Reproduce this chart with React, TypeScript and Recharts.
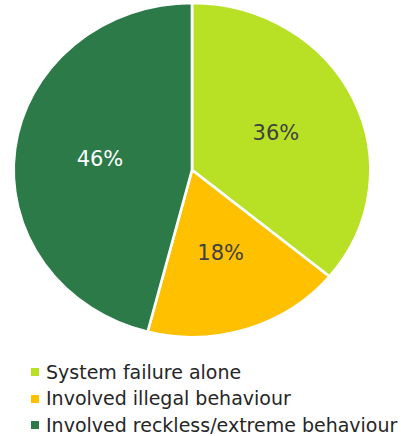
import React from 'react';
import { PieChart, Pie, Cell, Legend } from 'recharts';

const categories = ['System failure alone', 'Involved illegal behaviour', 'Involved reckless/extreme behaviour'];
const values = [36, 18, 46];
const colors = ['#B8E125', '#FFC000', '#2B7A48'];
const labelColors = ['#404040', '#404040', '#FFFFFF'];

const data = categories.map((name, i) => ({ name, value: values[i] }));

const SX = 1.068;
const RAD = Math.PI / 180;
const FONT = '"DejaVu Sans", "Open Sans", Arial, sans-serif';

const renderLabel = (p: any) => {
  const { cx, cy, midAngle, outerRadius, index, value } = p;
  const r = outerRadius * 0.52;
  const x = cx + r * Math.cos(-midAngle * RAD) * SX;
  const y = cy + r * Math.sin(-midAngle * RAD);
  return (
    <text
      x={x}
      y={y}
      fill={labelColors[index]}
      textAnchor="middle"
      dominantBaseline="central"
      fontSize={21}
      fontFamily={FONT}
    >
      {value}%
    </text>
  );
};

const renderLegend = (props: any) => {
  const { payload } = props;
  return (
    <div style={{ fontFamily: FONT, fontSize: 19, color: '#262626' }}>
      {(payload || []).map((entry: any, i: number) => (
        <div key={i} style={{ position: 'relative', height: 26.6, lineHeight: '26.6px', paddingLeft: 46, whiteSpace: 'nowrap' }}>
          <span style={{ position: 'absolute', left: 31, top: 9.5, width: 8, height: 8, background: colors[i] }} />
          {categories[i]}
        </div>
      ))}
    </div>
  );
};

export default function App() {
  return (
    <div style={{ position: 'absolute', left: 0, top: 0, width: 401, height: 436, background: '#fff' }}>
      <style>{`.recharts-pie-sector{transform-origin:192px 170px;transform:scaleX(${SX});}`}</style>
      <PieChart width={401} height={436} margin={{ top: 0, right: 0, bottom: 0, left: 0 }}>
        <Pie
          data={data}
          dataKey="value"
          nameKey="name"
          cx={192}
          cy={170}
          outerRadius={167}
          startAngle={90}
          endAngle={-270}
          stroke="#FFFFFF"
          strokeWidth={2.5}
          label={renderLabel}
          labelLine={false}
          isAnimationActive={false}
        >
          {data.map((d, i) => (
            <Cell key={d.name} fill={colors[i]} />
          ))}
        </Pie>
        <Legend
          content={renderLegend}
          wrapperStyle={{ position: 'absolute', left: 0, top: 358.5, width: 401 }}
        />
      </PieChart>
    </div>
  );
}
